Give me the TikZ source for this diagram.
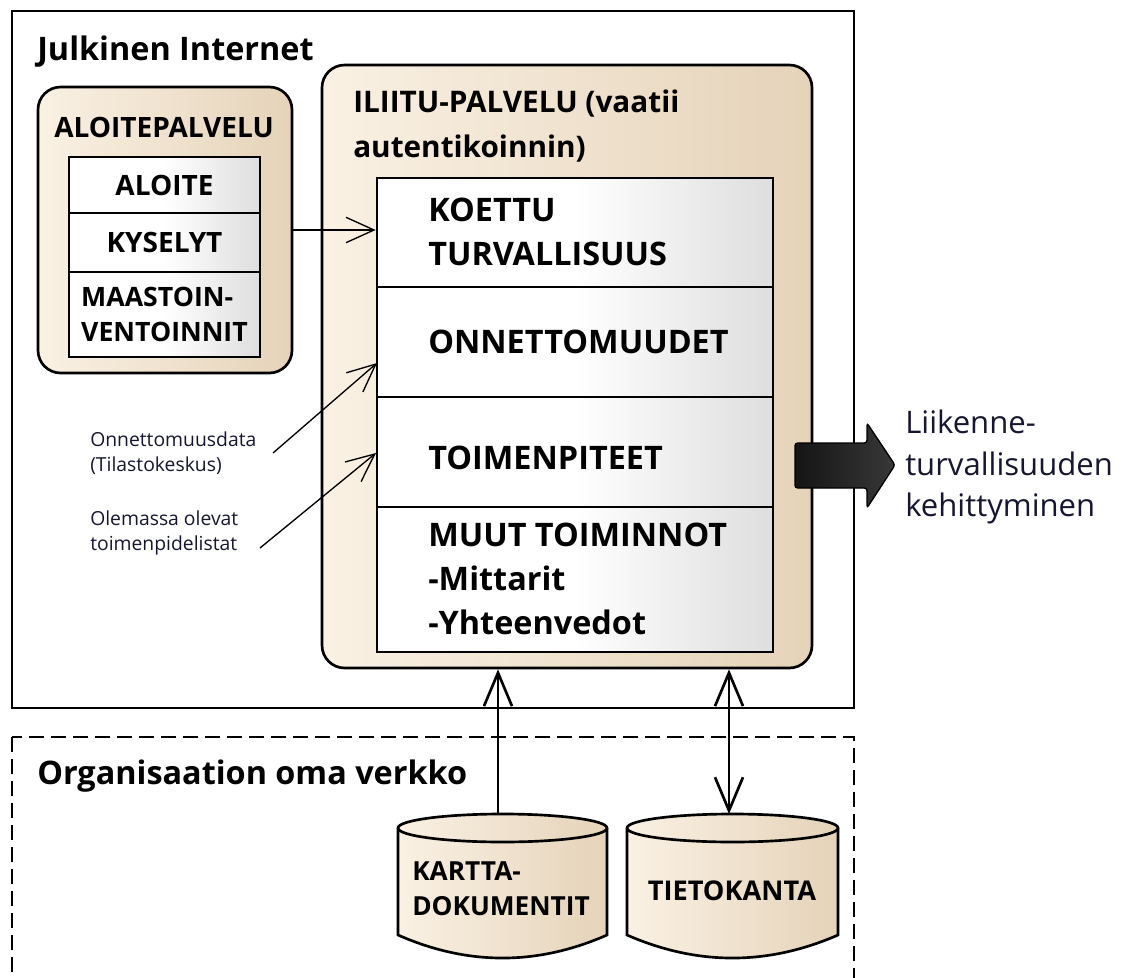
\documentclass[tikz,border=0pt]{standalone}
\usepackage{fontspec}
\setmainfont{Open Sans}
\usetikzlibrary{arrows.meta}
\definecolor{creamL}{RGB}{250,241,228}
\definecolor{creamR}{RGB}{229,211,185}
\definecolor{rowR}{RGB}{222,222,222}
\definecolor{inkblue}{RGB}{22,22,48}
\tikzset{
  region/.style={draw=black, line width=1pt},
  panel/.style={draw=black, line width=2pt, rounded corners=17pt, inner sep=0pt,
    left color=creamL, right color=creamR},
  rowbox/.style={draw=black, line width=2pt, inner sep=0pt,
    left color=white, right color=rowR, middle color=white},
  bold/.style={font=\bfseries\fontsize{21}{33}\selectfont, inner sep=0pt, align=left},
  big/.style={bold, font=\bfseries\fontsize{24.3}{33}\selectfont},
  small/.style={bold, font=\bfseries\fontsize{20}{26}\selectfont},
  note/.style={font=\fontsize{14.5}{19}\selectfont, inner sep=0pt, align=left, text=inkblue},
  feed/.style={line width=1pt, -{Straight Barb[length=21pt,width=19pt]}},
  link/.style={line width=2pt, {Straight Barb[length=25pt,width=21pt]}-},
  linkboth/.style={line width=2pt, {Straight Barb[length=25pt,width=21pt]}-{Straight Barb[length=25pt,width=21pt]}},
  drumfill/.style={left color=creamL, right color=creamR},
}
\begin{document}
\begin{tikzpicture}[x=0.75pt,y=-0.75pt]
\useasboundingbox (0,0) rectangle (1125,978);

% network regions (the local network box runs past the lower edge)
\draw[region] (12,11) rectangle (854,708);
\draw[region, dash pattern=on 11pt off 5.5pt] (12,737) rectangle (854,1000);
\node[big, anchor=west] (pub) at (37,52) {Julkinen Internet};
\node[big, anchor=west] (org) at (37,776) {Organisaation oma verkko};

% initiative service
\node[panel, minimum width=190.5pt, minimum height=214.5pt] (alo) at (165,230) {};
\node[bold] (aloT) at (164,127) {ALOITEPALVELU};
\node[rowbox, minimum width=143.25pt, minimum height=42pt] (aloite) at (164.5,185) {};
\node[rowbox, minimum width=143.25pt, minimum height=44.25pt] (kysely) at (164.5,242.5) {};
\node[rowbox, minimum width=143.25pt, minimum height=63.75pt] (maasto) at (164.5,314.5) {};
\node[bold] at (aloite) {ALOITE};
\node[bold] at (kysely) {KYSELYT};
\node[small] at (maasto) {MAASTOIN-\\VENTOINNIT};

% ILIITU service
\node[panel, minimum width=367.5pt, minimum height=452.25pt] (iliitu) at (567,366.5) {};
\node[bold, font=\bfseries\fontsize{22.3}{33.5}\selectfont, anchor=west] (iliT) at (353,126) {ILIITU-PALVELU (vaatii\\autentikoinnin)};
\node[rowbox, minimum width=297pt, minimum height=81.75pt] (koettu) at (575,232.5) {};
\node[rowbox, minimum width=297pt, minimum height=82.5pt] (onn) at (575,342) {};
\node[rowbox, minimum width=297pt, minimum height=82.5pt] (toim) at (575,452) {};
\node[rowbox, minimum width=297pt, minimum height=108.75pt] (muut) at (575,579.5) {};
\node[big, anchor=west] at (428,232) {KOETTU\\TURVALLISUUS};
\node[big, anchor=west] at (428,342) {ONNETTOMUUDET};
\node[big, anchor=west] at (428,458) {TOIMENPITEET};
\node[big, anchor=west] at (428,579) {MUUT TOIMINNOT\\-Mittarit\\-Yhteenvedot};

% external data sources
\node[note, anchor=west] (odata) at (90,453) {Onnettomuusdata\\(Tilastokeskus)};
\node[note, anchor=west] (tlist) at (90,533) {Olemassa olevat\\toimenpidelistat};
\coordinate (odataEnd) at (273,453);
\coordinate (tlistEnd) at (260,548);
\coordinate (onnIn) at (377,363);
\coordinate (toimIn) at (376,453);

\draw[feed] (alo.east) -- (alo.east -| koettu.west);
\draw[feed] (odataEnd) -- (onnIn);
\draw[feed] (tlistEnd) -- (toimIn);

% outcome arrow
\path[draw=black, line width=1pt, rounded corners=2pt, left color=black!92, right color=black!78]
  (795,443) -- (867,443) -- (867,423) -- (895,465) -- (867,508) -- (867,488) -- (795,488) -- cycle;
\node[anchor=west, inner sep=0pt, align=left, text=inkblue,
  font=\fontsize{23.3}{31}\selectfont] (out) at (905,467) {Liikenne-\\turvallisuuden\\kehittyminen};

% storage drums
\path[drumfill] (398,828) -- (398,935) .. controls (467.7,965.7) and (537.3,965.7) .. (607,935) -- (607,828) -- cycle;
\draw[line width=2pt] (398,828) -- (398,935) .. controls (467.7,965.7) and (537.3,965.7) .. (607,935) -- (607,828);
\draw[line width=2pt, drumfill] (502.5,828) ellipse [x radius=104.5, y radius=14];
\node[small, font=\bfseries\fontsize{19.7}{26}\selectfont, anchor=west] (kartta) at (412,889) {KARTTA-\\DOKUMENTIT};

\path[drumfill] (627,828) -- (627,935) .. controls (697.3,965.7) and (767.7,965.7) .. (838,935) -- (838,828) -- cycle;
\draw[line width=2pt] (627,828) -- (627,935) .. controls (697.3,965.7) and (767.7,965.7) .. (838,935) -- (838,828);
\draw[line width=2pt, drumfill] (732.5,828) ellipse [x radius=105.5, y radius=14];
\node[small, font=\bfseries\fontsize{20.4}{26}\selectfont] (tieto) at (732,891) {TIETOKANTA};

\coordinate (karttaTop) at (498,814);
\coordinate (tietoTop) at (729,814);
\draw[link] (iliitu.south -| karttaTop) -- (karttaTop);
\draw[linkboth] (iliitu.south -| tietoTop) -- (tietoTop);
\end{tikzpicture}
\end{document}
